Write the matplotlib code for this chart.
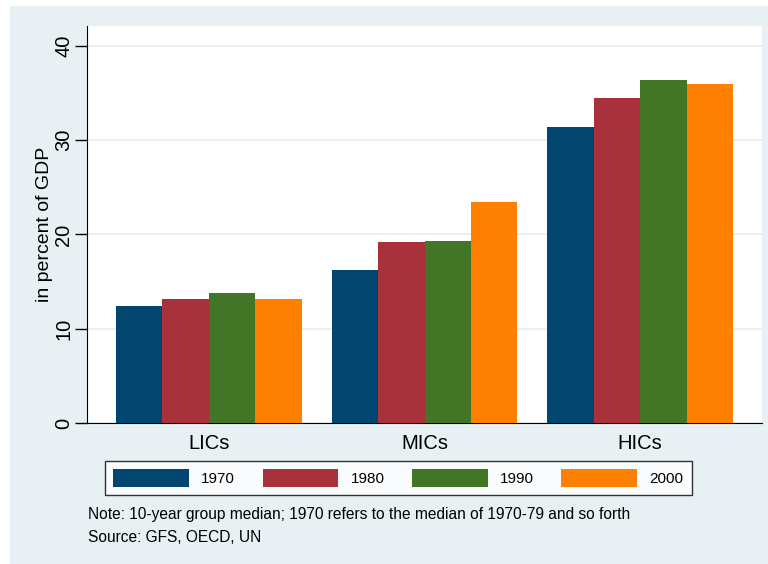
import matplotlib.pyplot as plt
from matplotlib.patches import Rectangle, Patch
import numpy as np

plt.rcParams['font.family'] = ['Liberation Sans', 'DejaVu Sans']

groups = ["LICs", "MICs", "HICs"]
years = ["1970", "1980", "1990", "2000"]
v1970 = [12.4, 16.2, 31.4]
v1980 = [13.2, 19.2, 34.5]
v1990 = [13.8, 19.3, 36.4]
v2000 = [13.1, 23.4, 35.9]
series = [v1970, v1980, v1990, v2000]
colors = ["#01466f", "#a8313b", "#427526", "#ff8000"]

W, H = 768, 564
fig = plt.figure(figsize=(W / 100, H / 100), dpi=100)
fig.patch.set_facecolor("white")
fig.patches.append(Rectangle((10 / W, 0), 1 - 10 / W, 1 - 6 / H,
                             transform=fig.transFigure, facecolor="#e8f0f3",
                             edgecolor="none", zorder=-10))

# plot region in pixels: x 87..762, y 26..423
ax = fig.add_axes([87 / W, 1 - 423 / H, (762 - 87) / W, (423 - 26) / H])
ax.set_facecolor("white")

x = np.arange(len(groups))
w = 186 / 4 / 216
for i, (vals, c) in enumerate(zip(series, colors)):
    ax.bar(x + (i - 1.5) * w, vals, width=w, color=c, edgecolor="none", zorder=3)

ax.set_xlim(-0.565, 2.565)
ax.set_ylim(0, 42.1)
ax.set_yticks([0, 10, 20, 30, 40])
ax.yaxis.grid(True, color="#e4eef2", linewidth=1.2, zorder=0)
ax.set_axisbelow(True)
for s in ["top", "right"]:
    ax.spines[s].set_visible(False)
ax.spines["left"].set_color("black")
ax.spines["bottom"].set_color("black")
ax.tick_params(axis="y", length=9, width=1, labelsize=14.5, pad=1)
for lab in ax.get_yticklabels():
    lab.set_rotation(90)
    lab.set_va("center")
ax.set_xticks(x)
ax.set_xticklabels(groups, fontsize=14.5)
ax.tick_params(axis="x", length=0, pad=8)
ax.set_ylabel("in percent of GDP", fontsize=14, labelpad=0.5)

handles = [Patch(facecolor=c, edgecolor="none") for c in colors]
leg = fig.legend(handles, years, ncol=4, loc="upper left",
                 bbox_to_anchor=(105 / W, 1 - 461 / H), fontsize=11,
                 handlelength=4.95, handleheight=1.35, handletextpad=0.8,
                 columnspacing=1.8, borderpad=0.55, fancybox=False,
                 frameon=True, borderaxespad=0)
leg.get_frame().set_edgecolor("black")
leg.get_frame().set_linewidth(1)

fig.text(88 / W, 1 - 515 / H,
         "Note: 10-year group median; 1970 refers to the median of 1970-79 and so forth",
         fontsize=11.2, va="center")
fig.text(88 / W, 1 - 538 / H, "Source: GFS, OECD, UN", fontsize=11.2, va="center")

fig.savefig("out.png", dpi=100)
